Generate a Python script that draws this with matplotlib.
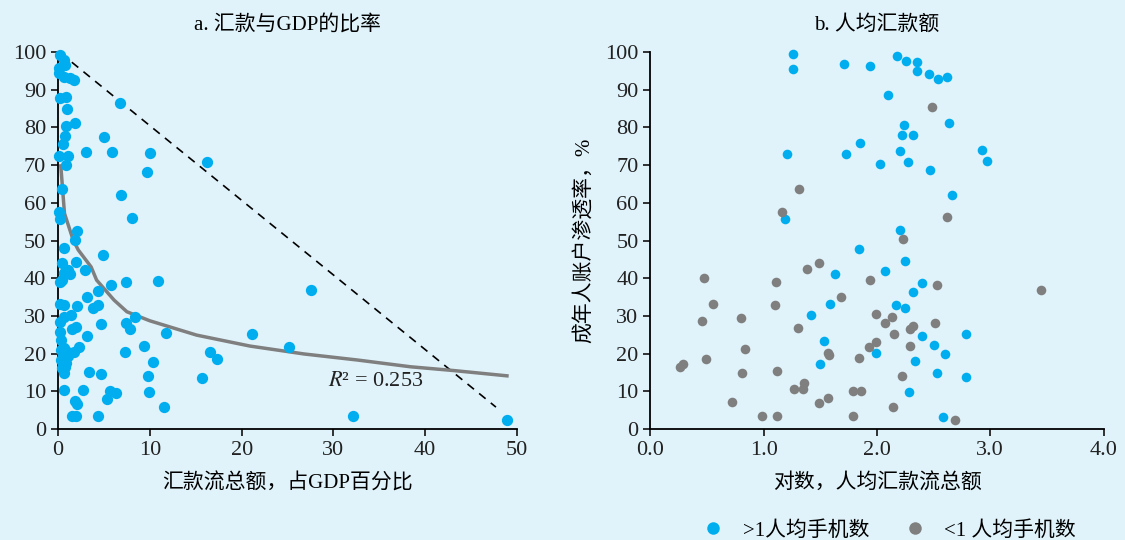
"""
Remittances vs. adult account penetration, two scatter panels.

a. remittance flows as share of GDP (with log trend and dashed frontier)
b. log remittance flows per capita, split by mobile phones per capita
"""

import matplotlib
matplotlib.use("Agg")
import matplotlib.pyplot as plt
from matplotlib.lines import Line2D

plt.rcParams["font.family"] = ["Liberation Serif", "Noto Sans CJK SC"]
plt.rcParams["mathtext.fontset"] = "stix"

BG = "#E0F3FA"
BLUE = "#00AEEF"
GRAY = "#7F7F7F"

# panel a: remittances, % of GDP vs. account penetration, %
gdp_share = [
    0.2, 0.6, 0.8, 0.05, 0.05, 0.6, 1.3, 1.7, 0.2, 0.9, 1.0, 0.9, 1.85, 0.8,
    0.5, 0.1, 1.1, 0.9, 0.4, 0.15, 0.2, 2.1, 1.9, 0.6, 5.0, 3.0, 5.9, 10.0,
    6.7, 16.2, 9.7, 6.9, 8.1, 4.9, 0.4, 2.0,
    2.9, 1.1, 1.3, 0.7, 0.4, 0.2, 5.8, 7.4, 10.9, 27.5, 4.4, 3.1, 0.2, 0.6,
    2.1, 4.4, 3.8, 1.4, 0.6, 0.2, 8.4, 7.4, 4.7, 2.0, 1.5, 7.8, 11.8, 21.1,
    3.2, 0.3, 25.2, 9.4, 2.3, 0.6, 1.7, 7.3, 16.5, 1.1, 17.3, 10.3, 0.3, 0.9,
    3.4, 4.65, 0.65, 9.8, 15.7, 0.6, 2.7, 5.7, 6.3, 9.9, 5.3, 1.85, 2.1, 11.5,
    1.5, 2.0, 4.3, 32.1, 48.9, 0.3, 0.5, 0.8, 0.4, 0.9, 0.2,
]
gdp_account = [
    99.2, 97.9, 96.6, 95.7, 94.4, 93.5, 93.0, 92.6, 87.7, 88.1, 84.9, 80.4,
    81.1, 77.7, 75.5, 72.4, 72.4, 70.0, 63.6, 57.5, 55.6, 52.5, 50.1, 47.9,
    77.4, 73.5, 73.5, 73.3, 86.6, 70.7, 68.3, 62.0, 55.9, 46.2, 44.0, 44.2,
    42.2, 42.2, 41.1, 41.3, 39.5, 39.1, 38.2, 38.9, 39.3, 36.9, 36.6, 35.1,
    33.2, 32.9, 32.6, 32.9, 32.0, 30.2, 29.6, 28.5, 29.6, 28.0, 27.9, 27.1,
    26.5, 26.4, 25.4, 25.1, 24.7, 23.6, 21.8, 22.1, 21.7, 21.4, 20.5, 20.3,
    20.3, 19.4, 18.6, 17.9, 18.3, 17.4, 15.2, 14.6, 14.8, 14.1, 13.6, 10.3,
    10.3, 10.1, 9.5, 9.9, 8.0, 7.3, 6.6, 5.7, 3.5, 3.5, 3.5, 3.5, 2.4,
    21.0, 19.6, 16.5, 16.2, 20.8, 25.8,
]

# fitted trend (R2 = 0.253)
trend_x = [0.3, 0.7, 1.65, 2.2, 3.6, 4.2, 6.1, 7.5, 10.0, 15.1, 20.9, 26.8,
           32.6, 38.4, 43.1, 48.9]
trend_y = [69.8, 57.2, 50.1, 47.5, 43.0, 39.5, 34.2, 31.1, 28.7, 24.9, 22.0,
           19.9, 18.3, 16.5, 15.5, 14.1]

frontier_x = [1.5, 47.7]
frontier_y = [97.3, 5.8]

# panel b: log remittances per capita vs. account penetration, %
hi_phone_x = [
    1.26, 1.26, 1.21, 1.19, 1.71, 1.94, 2.18, 2.26, 2.35, 2.35, 2.46, 2.54,
    2.62, 2.10, 2.64, 2.24, 2.22, 2.32, 1.85, 1.73, 2.20, 2.27, 2.03, 2.47,
    2.93, 2.97, 2.66, 2.20, 1.84, 2.25, 1.63, 1.42, 1.59, 1.53, 1.50, 1.99,
    2.07, 2.17, 2.25, 2.40, 2.32, 2.40, 2.50, 2.60, 2.34, 2.53, 2.28, 2.58,
    2.79, 2.79,
]
hi_phone_y = [
    99.4, 95.5, 72.9, 55.8, 96.8, 96.3, 98.9, 97.6, 97.3, 94.9, 94.2, 92.9,
    93.5, 88.6, 81.2, 80.7, 78.0, 78.0, 75.8, 72.9, 73.8, 70.7, 70.2, 68.6,
    74.0, 71.0, 62.0, 52.8, 47.7, 44.6, 41.1, 30.2, 33.1, 23.4, 17.2, 20.1,
    41.9, 32.9, 32.0, 38.8, 36.4, 24.7, 22.3, 19.9, 18.0, 14.8, 9.7, 3.3,
    25.3, 13.9,
]
lo_phone_x = [
    2.49, 1.31, 1.16, 2.62, 2.23, 0.47, 0.55, 0.46, 0.80, 0.84, 0.49, 0.26,
    0.29, 0.81, 0.72, 0.99, 1.12, 1.11, 1.10, 1.12, 1.30, 1.38, 1.49, 1.68,
    1.27, 1.35, 1.36, 1.49, 1.57, 1.57, 1.58, 1.79, 1.86, 1.79, 1.84, 1.94,
    1.99, 1.99, 1.93, 2.07, 2.13, 2.15, 2.14, 2.22, 2.29, 2.29, 2.32, 2.53,
    2.51, 2.69, 3.45,
]
lo_phone_y = [
    85.3, 63.8, 57.6, 56.2, 50.3, 40.0, 33.2, 28.6, 29.4, 21.3, 18.5, 16.5,
    17.2, 14.8, 7.2, 3.5, 3.5, 39.1, 32.8, 15.4, 26.7, 42.4, 44.1, 35.1,
    10.5, 10.5, 12.1, 6.8, 8.1, 20.2, 19.5, 10.2, 10.2, 3.5, 18.7, 39.5,
    30.4, 23.2, 21.7, 28.0, 29.6, 25.3, 5.7, 14.1, 21.9, 26.4, 27.3, 38.2,
    28.2, 2.4, 36.9,
]


def style_axis(ax):
    ax.set_facecolor(BG)
    for side in ("top", "right"):
        ax.spines[side].set_visible(False)
    for side in ("left", "bottom"):
        ax.spines[side].set_linewidth(1.3)
    ax.tick_params(direction="out", length=5, width=1.3, labelsize=16,
                   colors="#222222")
    ax.set_ylim(0, 100)
    ax.set_yticks(range(0, 101, 10))


def draw_panel_a(ax):
    style_axis(ax)
    ax.plot(frontier_x, frontier_y, color="black", lw=1.2,
            linestyle=(0, (5, 4)), zorder=2)
    ax.plot(trend_x, trend_y, color=GRAY, lw=2.5, zorder=2)
    ax.scatter(gdp_share, gdp_account, s=66, color=BLUE, linewidths=0,
               zorder=3, clip_on=False)
    ax.text(29.4, 11.4, r"$R$² = 0.253", fontsize=16, va="baseline",
            ha="left", color="#222222")
    ax.set_xlim(0, 50)
    ax.set_xticks(range(0, 51, 10))
    ax.set_xlabel("汇款流总额，占GDP百分比", fontsize=15, labelpad=10)
    ax.set_title("a. 汇款与GDP的比率", fontsize=15, pad=16)


def draw_panel_b(ax):
    style_axis(ax)
    ax.scatter(hi_phone_x, hi_phone_y, s=48, color=BLUE, linewidths=0,
               zorder=3, clip_on=False)
    ax.scatter(lo_phone_x, lo_phone_y, s=48, color=GRAY, linewidths=0,
               zorder=3, clip_on=False)
    ax.set_xlim(0, 4)
    ax.set_xticks([0, 1, 2, 3, 4])
    ax.set_xticklabels(["0.0", "1.0", "2.0", "3.0", "4.0"])
    ax.set_xlabel("对数，人均汇款流总额", fontsize=15, labelpad=10)
    ax.set_ylabel("成年人账户渗透率，%", fontsize=15, labelpad=8)
    ax.set_title("b. 人均汇款额", fontsize=15, pad=16)


def main():
    fig = plt.figure(figsize=(11.25, 5.4), dpi=100)
    fig.patch.set_facecolor(BG)

    ax_a = fig.add_axes([0.0516, 0.2056, 0.408, 0.698])
    ax_b = fig.add_axes([0.578, 0.2056, 0.403, 0.698])

    draw_panel_a(ax_a)
    draw_panel_b(ax_b)

    handles = [
        Line2D([], [], marker="o", linestyle="", markersize=9,
               markerfacecolor=BLUE, markeredgewidth=0),
        Line2D([], [], marker="o", linestyle="", markersize=9,
               markerfacecolor=GRAY, markeredgewidth=0),
    ]
    fig.legend(handles, [">1人均手机数", "<1 人均手机数"], loc="center",
               bbox_to_anchor=(0.786, 0.017), ncol=2, frameon=False,
               fontsize=15, handletextpad=0.4, columnspacing=1.2)

    fig.savefig("out.png", dpi=100, facecolor=BG)


if __name__ == "__main__":
    main()
